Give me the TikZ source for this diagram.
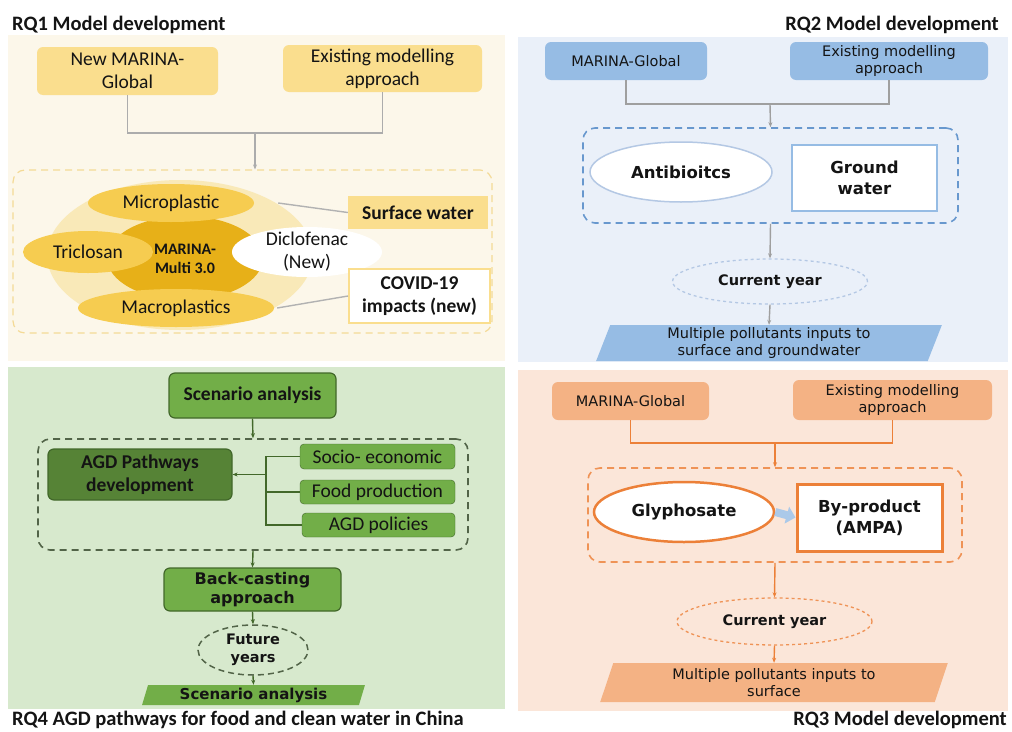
\documentclass[tikz,border=0pt]{standalone}
\usepackage{fontspec}
\setmainfont{Carlito}
\newfontfamily\dejavu{DejaVu Sans}
\usepackage{tikz}
\usetikzlibrary{arrows.meta,shapes.geometric,positioning,calc}
% panel colours
\definecolor{rqonebg}{RGB}{252,247,234}
\definecolor{rqonebox}{RGB}{250,222,142}
\definecolor{rqonepale}{RGB}{249,233,184}
\definecolor{rqonemid}{RGB}{246,204,80}
\definecolor{rqonecore}{RGB}{231,176,24}
\definecolor{rqonedash}{RGB}{244,218,150}
\definecolor{rqtwobg}{RGB}{234,240,249}
\definecolor{rqtwobox}{RGB}{150,188,228}
\definecolor{rqtwodash}{RGB}{104,152,206}
\definecolor{rqtwoline}{RGB}{180,200,228}
\definecolor{rqthreebg}{RGB}{251,230,217}
\definecolor{rqthreebox}{RGB}{244,178,132}
\definecolor{rqthreeline}{RGB}{236,128,56}
\definecolor{rqfourbg}{RGB}{215,233,205}
\definecolor{rqfourbox}{RGB}{114,174,72}
\definecolor{rqfourdark}{RGB}{86,131,54}
\definecolor{rqfourline}{RGB}{66,104,42}
\definecolor{rqfourdash}{RGB}{82,100,72}

\begin{document}
\begin{tikzpicture}[x=1pt, y=-1pt,
    every node/.style={align=center, inner sep=0pt, text=black!92},
    title/.style={font=\fontsize{20.5}{23}\selectfont\bfseries},
    cal/.style={font=\fontsize{19.5}{23}\selectfont},
    calb/.style={font=\fontsize{19.5}{23}\selectfont\bfseries},
    dv/.style={font=\dejavu\fontsize{14.5}{17.5}\selectfont},
    dvb/.style={font=\dejavu\bfseries\fontsize{16.5}{21}\selectfont},
    dvbs/.style={font=\dejavu\bfseries\fontsize{14.5}{18.5}\selectfont},
    box/.style={rectangle, rounded corners=6pt},
    oval/.style={ellipse},
    group/.style={rectangle, rounded corners=12pt, dash pattern=on 7pt off 5pt, line width=1.6pt},
    para/.style={trapezium, trapezium left angle=74, trapezium right angle=106, trapezium stretches=true},
    link/.style={line width=1.4pt},
    tip/.style={-{Stealth[length=5pt,width=4pt]}},
]
    \useasboundingbox (0,0) rectangle (1012,731);
    \fill[white] (0,0) rectangle (1012,731);

    % Panels
    \fill[rqonebg] (8,35) rectangle (505,361);
    \fill[rqtwobg] (518,37) rectangle (1008,362);
    \fill[rqfourbg] (8,367) rectangle (505,709);
    \fill[rqthreebg] (518,370) rectangle (1008,711);

    % Titles
    \node[title, anchor=base west] (tone) at (12,30.5) {RQ1 Model development};
    \node[title, anchor=base east] (ttwo) at (999,30.5) {RQ2 Model development};
    \node[title, anchor=base west] (tfour) at (12,725.5) {RQ4 AGD pathways for food and clean water in China};
    \node[title, anchor=base east] (tthree) at (1007,725.5) {RQ3 Model development};

    % RQ1: inputs
    \node[box, cal, fill=rqonebox, minimum width=181, minimum height=48] (newm) at (127.5,71) {New MARINA-\\Global};
    \node[box, cal, fill=rqonebox, minimum width=199, minimum height=47] (exone) at (382.5,68.5) {Existing modelling\\approach};
    \coordinate (jone) at (255,133);
    \draw[link, gray!65] (newm.south) |- (jone) -| (exone.south);
    \node[group, draw=rqonedash, line width=1.2pt, minimum width=479, minimum height=163] (grpone) at (252.5,251.5) {};
    \draw[link, gray!65, tip] (jone) -- (jone |- grpone.north);

    % RQ1: pollutants around MARINA-Multi
    \node[oval, fill=rqonepale, minimum width=266, minimum height=150] (pale) at (180,255) {};
    \node[oval, fill=rqonecore, minimum width=156, minimum height=84] (core) at (185,258) {};
    \node[oval, cal, fill=rqonemid, minimum width=166, minimum height=38] (micro) at (171,203) {Microplastic};
    \node[oval, cal, fill=rqonemid, minimum width=130, minimum height=42] (tric) at (88,252) {Triclosan};
    \node[oval, cal, fill=rqonemid, minimum width=196, minimum height=38] (macro) at (176,308) {Macroplastics};
    \node[font=\fontsize{16}{19}\selectfont\bfseries] (coretext) at (185,259) {MARINA-\\Multi 3.0};
    \node[oval, fill=white, minimum width=150, minimum height=50,
          label={[cal]center:Diclofenac\\(New)}] (diclo) at (307,252) {};
    \node[calb, fill=rqonebox, minimum width=140, minimum height=33] (surf) at (418,212.5) {Surface water};
    \node[calb, fill=white, draw=rqonebox, line width=2pt, minimum width=141, minimum height=54] (covid) at (419.5,296) {COVID-19\\impacts (new)};
    \draw[link, gray!60] ([xshift=24]micro.east) -- (surf.west);
    \draw[link, gray!60] ([xshift=3]macro.east) -- (covid.west);

    % RQ2
    \node[box, dv, fill=rqtwobox, minimum width=162, minimum height=38] (mgtwo) at (626,61) {MARINA-Global};
    \node[box, dv, fill=rqtwobox, minimum width=198, minimum height=38] (extwo) at (889,61) {Existing modelling\\approach};
    \coordinate (jtwo) at (770,104);
    \draw[link, gray!75] (mgtwo.south) |- (jtwo) -| (extwo.south);
    \node[group, draw=rqtwodash, minimum width=375, minimum height=95] (grptwo) at (770.5,175.5) {};
    \draw[link, gray!75, tip] (jtwo) -- (grptwo.north);
    \node[oval, dvb, fill=white, draw=rqtwoline, line width=1.5pt, minimum width=182, minimum height=60] (anti) at (681,172) {Antibioitcs};
    \node[dvb, fill=white, draw=rqtwobox, line width=2.5pt, minimum width=145, minimum height=66] (ground) at (864.5,178) {Ground\\water};
    \node[oval, dvbs, draw=rqtwoline, dashed, line width=1.3pt, minimum width=195, minimum height=45] (cytwo) at (770,281.5) {Current year};
    \draw[link, gray!75, tip] (grptwo.south) -- (cytwo.north);
    \node[para, dv, fill=rqtwobox, minimum width=346, minimum height=36] (outtwo) at (769,343) {Multiple pollutants inputs to\\surface and groundwater};
    \draw[link, gray!75, tip] (cytwo.south) -- (outtwo.north);

    % RQ3
    \node[box, dv, fill=rqthreebox, minimum width=157, minimum height=38] (mgthree) at (630.5,401) {MARINA-Global};
    \node[box, dv, fill=rqthreebox, minimum width=199, minimum height=40] (exthree) at (892.5,400) {Existing modelling\\approach};
    \coordinate (jthree) at (775,443);
    \draw[link, rqthreeline] (mgthree.south) |- (jthree) -| (exthree.south);
    \node[group, draw=rqthreeline!85, minimum width=374, minimum height=94] (grpthree) at (775,515) {};
    \draw[link, rqthreeline, tip] (jthree) -- (grpthree.north);
    \node[oval, dvb, fill=white, draw=rqthreeline, line width=2.5pt, minimum width=180, minimum height=60] (glyph) at (684,512) {Glyphosate};
    \node[dvb, fill=white, draw=rqthreeline, line width=3pt, minimum width=145, minimum height=67] (byprod) at (869.5,517.5) {By-product\\(AMPA)};
    \draw[line width=8pt, rqtwobox!80, -{Triangle[length=9pt,width=17pt]}] (glyph.east) -- (byprod.west);
    \node[oval, dvbs, draw=rqthreeline!85, dashed, line width=1.3pt, minimum width=195, minimum height=47] (cythree) at (774.5,621.5) {Current year};
    \draw[link, rqthreeline, tip] (grpthree.south) -- (cythree.north);
    \node[para, dv, fill=rqthreebox, minimum width=348, minimum height=39] (outthree) at (774,682.5) {Multiple pollutants inputs to\\surface};
    \draw[link, rqthreeline, tip] (cythree.south) -- (outthree.north);

    % RQ4
    \node[box, calb, fill=rqfourbox, draw=rqfourline, line width=1.2pt, minimum width=167, minimum height=45] (scen) at (252.5,395.5) {Scenario analysis};
    \node[group, draw=rqfourdash, minimum width=430, minimum height=111] (grpfour) at (253,494.5) {};
    \draw[link, rqfourline, tip] (scen.south) -- (grpfour.north);
    \node[box, calb, fill=rqfourdark, draw=rqfourline, line width=1.2pt, minimum width=184, minimum height=51] (agd) at (140,474.5) {AGD Pathways\\development};
    \node[box, cal, rounded corners=4pt, fill=rqfourbox, draw=rqfourline, minimum width=155, minimum height=25] (socio) at (377.5,456.5) {Socio- economic};
    \node[box, cal, rounded corners=4pt, fill=rqfourbox, draw=rqfourline, minimum width=155, minimum height=24] (food) at (377.5,492) {Food production};
    \node[box, cal, rounded corners=4pt, fill=rqfourbox, draw=rqfourline, minimum width=153, minimum height=24] (policy) at (378.5,525) {AGD policies};
    \coordinate (bfour) at (266,475);
    \draw[link, rqfourline] (socio.west) -- (socio.west -| bfour) -- (policy.west -| bfour) -- (policy.west);
    \draw[link, rqfourline] (food.west) -- (food.west -| bfour);
    \draw[link, rqfourline, tip] (agd.east -| bfour) -- (agd.east);
    \node[box, font=\dejavu\bfseries\fontsize{16}{18.5}\selectfont, fill=rqfourbox, draw=rqfourline, line width=1.2pt, minimum width=177, minimum height=43] (back) at (252.5,589.5) {Back-casting\\approach};
    \draw[link, rqfourline, tip] (grpfour.south) -- (back.north);
    \node[oval, dvbs, draw=rqfourdash, dash pattern=on 6pt off 4pt, line width=1.5pt, minimum width=110, minimum height=50] (future) at (253,650) {Future\\years};
    \draw[link, rqfourline, tip] (back.south) -- (future.north);
    \node[para, font=\dejavu\bfseries\fontsize{15}{17}\selectfont, fill=rqfourbox, minimum width=223, minimum height=20] (scenout) at (253.5,695) {Scenario analysis};
    \draw[link, rqfourline, tip] (future.south) -- (scenout.north);
\end{tikzpicture}
\end{document}
